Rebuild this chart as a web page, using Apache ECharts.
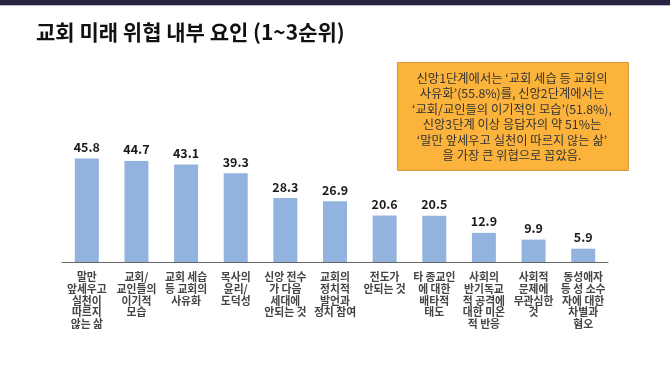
<!DOCTYPE html>
<html>
<head>
<meta charset="utf-8">
<script src="https://cdn.jsdelivr.net/npm/echarts@6/dist/echarts.min.js"></script>
<style>html,body{margin:0;padding:0;background:#fff}#c{width:670px;height:381px}</style>
</head>
<body>
<div id="c"></div>
<script>
const categories = [
  '말만\n앞세우고\n실천이\n따르지\n않는 삶',
  '교회/\n교인들의\n이기적\n모습',
  '교회 세습\n등 교회의\n사유화',
  '목사의\n윤리/\n도덕성',
  '신앙 전수\n가 다음\n세대에\n안되는 것',
  '교회의\n정치적\n발언과\n정치 참여',
  '전도가\n안되는 것',
  '타 종교인\n에 대한\n배타적\n태도',
  '사회의\n반기독교\n적 공격에\n대한 미온\n적 반응',
  '사회적\n문제에\n무관심한\n것',
  '동성애자\n등 성 소수\n자에 대한\n차별과\n혐오'
];
const values = [45.8, 44.7, 43.1, 39.3, 28.3, 26.9, 20.6, 20.5, 12.9, 9.9, 5.9];
const titleText = '교회 미래 위협 내부 요인 (1~3순위)';
const noteText = "신앙1단계에서는 ‘교회 세습 등 교회의\n사유화’(55.8%)를, 신앙2단계에서는\n‘교회/교인들의 이기적인 모습’(51.8%),\n신앙3단계 이상 응답자의 약 51%는\n‘말만 앞세우고 실천이 따르지 않는 삶’\n을 가장 큰 위협으로 꼽았음.";

const font = '"Noto Sans CJK KR", "Noto Sans", sans-serif';
const chart = echarts.init(document.getElementById('c'));
chart.setOption({
  animation: false,
  textStyle: { fontFamily: font },
  graphic: [
    { type: 'rect', left: 0, top: 0, shape: { width: 670, height: 5 }, style: { fill: '#28243f' } },
    { type: 'rect', left: 0, top: 5, shape: { width: 670, height: 1 }, style: { fill: '#b8b6d0' } },
    { type: 'text', left: 36, top: 22, style: { text: titleText, font: 'bold 21px ' + font, fill: '#111' } },
    { type: 'rect', left: 397, top: 62, shape: { width: 231, height: 108 }, style: { fill: '#fbb33c', stroke: '#d39a3a', lineWidth: 1 } },
    { type: 'text', x: 512, y: 117, style: { text: noteText, font: '12.3px ' + font, fill: '#333', align: 'center', verticalAlign: 'middle', lineHeight: 15.5 } }
  ],
  grid: { left: 62, right: 62, top: 149, bottom: 119 },
  xAxis: {
    type: 'category',
    data: categories,
    axisLine: { lineStyle: { color: '#666', width: 1 } },
    axisTick: { inside: true, length: 4, lineStyle: { color: '#666' } },
    axisLabel: { interval: 0, margin: 9, fontSize: 10.8, fontWeight: 'bold', color: '#444', lineHeight: 11.8, fontFamily: font }
  },
  yAxis: { type: 'value', min: 0, max: 50, show: false, splitLine: { show: false } },
  series: [{
    type: 'bar',
    data: values,
    barWidth: 24,
    itemStyle: { color: '#93b3df' },
    label: { show: true, position: 'top', distance: 5, fontSize: 12.5, fontWeight: 'bold', color: '#1a1a1a', fontFamily: font, formatter: p => p.value.toFixed(1) }
  }]
});
</script>
</body>
</html>
